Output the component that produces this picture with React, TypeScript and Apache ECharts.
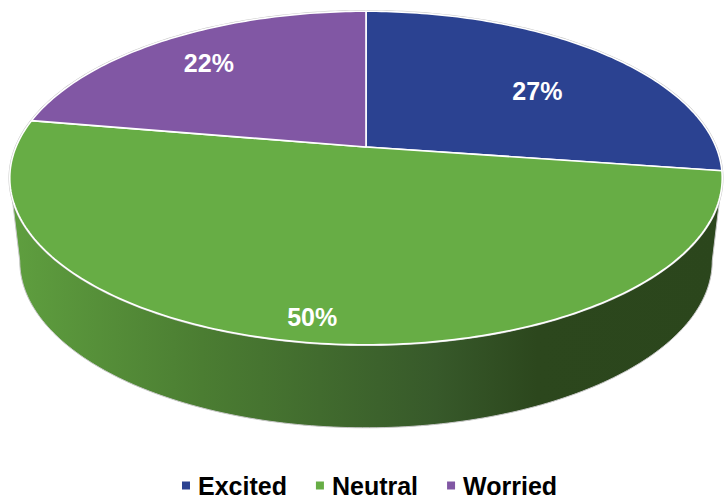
import React, { useEffect, useRef } from "react";
import * as echarts from "echarts";

// ---- data ----
const categories = ["Excited", "Neutral", "Worried"];
const shares = [27.3, 50.4, 22.3];
const colors = ["#2b4291", "#67ad45", "#8157a4"];

// ---- layout (3D pie projection) ----
const CX = 366;
const HUB_Y = 147;
const SX = 350;
const SY = 161;
const K = 0.186; // perspective strength
const DEPTH = 83;
const BOTTOM_SCALE = 0.972;
const LABEL_R = [0.64, 0.89, 0.76];
const LABEL_SHIFT = [5.7, -0.7, -0.7];
const FONT = 'Arial, "Liberation Sans", Helvetica, sans-serif';

const DEG = Math.PI / 180;

function rim(phi: number, r = 1): number[] {
  const p = phi * DEG;
  const u = r * Math.sin(p);
  const v = -r * Math.cos(p);
  const w = 1 - K * v;
  return [CX + (SX * u) / w, HUB_Y + (SY * v) / w];
}
function bottomRim(phi: number): number[] {
  const [x, y] = rim(phi);
  return [CX + BOTTOM_SCALE * (x - CX), y + DEPTH];
}
function arc(a: number, b: number, f: (p: number) => number[]): number[][] {
  const n = Math.max(2, Math.ceil(Math.abs(b - a)));
  const pts: number[][] = [];
  for (let i = 0; i <= n; i++) pts.push(f(a + ((b - a) * i) / n));
  return pts;
}

const total = shares.reduce((s, v) => s + v, 0);
const starts: number[] = [];
{
  let c = 0;
  shares.forEach((v) => {
    starts.push((c / total) * 360);
    c += v;
  });
}
const VIS_A = Math.acos(-K) / DEG;
const VIS_B = 360 - VIS_A;

function makeRenderItem(i: number) {
  return (params: any, api: any) => {
    const value = api.value(0) as number;
    const s = starts[i];
    const e = s + (value / total) * 360;
    const children: any[] = [];

    // side wall
    const a = Math.max(s, VIS_A);
    const b = Math.min(e, VIS_B);
    if (b > a) {
      const pts = arc(a, b, (p) => rim(p)).concat(arc(b, a, (p) => bottomRim(p)));
      children.push({
        type: "polygon",
        z2: 1,
        shape: { points: pts },
        style: {
          fill: new echarts.graphic.LinearGradient(
            10,
            0,
            722,
            0,
            [
              { offset: 0, color: "#5f9f3f" },
              { offset: 0.27, color: "#4b7d32" },
              { offset: 0.6, color: "#37592a" },
              { offset: 0.74, color: "#2c471d" },
              { offset: 1, color: "#2b461c" },
            ],
            true
          ),
          stroke: "#c8c8c8",
          lineWidth: 1,
        },
      });
    }

    if (i === 0) {
      children.push({
        type: "polygon",
        z2: 2,
        shape: { points: arc(0, 360, (p) => rim(p)) },
        style: { fill: "none", stroke: "#c4c4c4", lineWidth: 2.5 },
      });
    }

    // top face
    const top = [[CX, HUB_Y]].concat(arc(s, e, (p) => rim(p)));
    children.push({
      type: "polygon",
      z2: 3,
      shape: { points: top },
      style: { fill: colors[i], stroke: "#ffffff", lineWidth: 1.6, lineJoin: "round" },
    });

    // label
    const mid = (s + e) / 2 + LABEL_SHIFT[i];
    const [lx, ly] = rim(mid, LABEL_R[i]);
    children.push({
      type: "text",
      z2: 4,
      style: {
        text: Math.round((value / total) * 100) + "%",
        x: lx,
        y: ly,
        fill: "#ffffff",
        font: `bold 25px ${FONT}`,
        align: "center",
        verticalAlign: "middle",
        textAlign: "center",
        textVerticalAlign: "middle",
      },
    });

    return { type: "group", children };
  };
}

export default function App() {
  const ref = useRef<HTMLDivElement>(null);
  useEffect(() => {
    if (!ref.current) return;
    const chart = echarts.init(ref.current, undefined, { renderer: "svg" });
    chart.setOption({
      animation: false,
      backgroundColor: "#ffffff",
      legend: {
        data: categories,
        left: 182,
        top: 473,
        padding: 0,
        icon: "rect",
        itemWidth: 8,
        itemHeight: 8,
        itemGap: 29,
        selectedMode: false,
        textStyle: {
          fontFamily: FONT,
          fontWeight: "bold",
          fontSize: 25,
          color: "#000000",
          padding: [0, 0, 0, 3],
        },
      },
      series: categories.map((name, i) => ({
        type: "custom",
        name,
        coordinateSystem: "none",
        silent: true,
        itemStyle: { color: colors[i] },
        data: [shares[i]],
        renderItem: makeRenderItem(i),
      })),
    });
    return () => chart.dispose();
  }, []);
  return (
    <div
      ref={ref}
      style={{ position: "fixed", left: 0, top: 0, width: 725, height: 501 }}
    />
  );
}
